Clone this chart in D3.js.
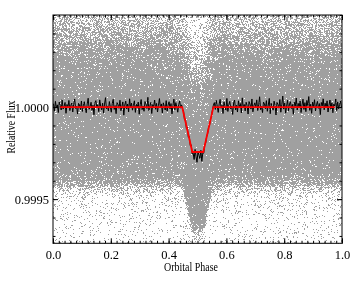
<!DOCTYPE html>
<html>
<head>
<meta charset="utf-8">
<script src="https://cdn.jsdelivr.net/npm/d3@7"></script>
<style>
body { margin: 0; background: #fff; }
#chart { position: relative; width: 360px; height: 288px; }
#chart canvas, #chart svg { position: absolute; left: 0; top: 0; }
</style>
</head>
<body>
<div id="chart"></div>
<script>
// size of the picture
let svg_width = 360;
let svg_height = 288;
let margin = {top: 15, right: 18, bottom: 44.7, left: 53};

// transit model (red line)
let model_phase = [0.025, 0.447, 0.482, 0.520, 0.555, 0.975];
let model_flux  = [1.0, 1.0, 0.999756, 0.999756, 1.0, 1.0];

// binned light curve (black line), 300 bins, deviation from 1 in ppm
let binned_ppm = [
  18, -22, 31, -5, 12, -30, 27, 8, -16, 40, -11, 3, 25, -34, 14, -2, 36, -19, 9, 22,
  -27, 15, 44, -8, 5, -38, 20, 11, -14, 33, -24, 7, 29, -6, -31, 17, 48, -12, 2, 26,
  -18, 10, -42, 23, 35, -3, 13, -25, 39, 4, -15, 21, -33, 16, 51, -9, 6, -21, 30, 1,
  -28, 19, 42, -13, 8, -36, 24, 14, -7, 37, -20, 3, 28, -44, 11, 32, -10, 18, -26, 45,
  -4, 21, -17, 9, 34, -29, 15, -1, 27, -39, 12, 41, -14, 6, -23, 30, 16, -8, 53, -19,
  7, 25, -35, 13, 2, 38, -12, 20, -27, 10, 46, -5, 17, -32, 23, 4, -16, 35, -22, 11,
  29, -10, 19, -37, 8, 43, -15, 24, 1, -28, 14, 33, -6, 12,
  -12, -20, -70, -65, -120, -110, -165, -160, -210, -205, -255,
  -250, -285, -230, -270, -300, -240, -262, -280, -235, -295, -250,
  -250, -205, -195, -160, -145, -110, -100, -65, -50, -15, 10,
  24, -13, 36, 5, -29, 17, 42, -7, 10, -35, 28, 2, -18, 47, -24, 13, 31, -10, 6, -40,
  22, 38, -15, 9, -27, 34, 1, 19, -32, 50, -5, 14, -21, 26, 8, -38, 30, 16, -11, 44,
  -26, 7, 23, -3, 39, -19, 12, 56, -14, 4, -30, 27, 18, -9, 35, -23, 11, 47, -36, 20,
  3, -17, 32, 9, -43, 25, 15, -6, 41, -28, 13, 60, -11, 22, -33, 6, 37, -20, 17, 29,
  -8, 14, -39, 26, 4, 49, -16, 20, -2, 33, -30, 11, 43, -13, 24, -25, 36, 8, 57, -18,
  15, -34, 27, 2, 40, -21, 12, 31, -7, 19, -41, 25, 6, 46, -15, 21, -4, 34, -27, 10,
  38, -12, 23, -31, 16, 5, 44, -19, 28, -9, 14, 33, -2
];

// raw photometry (grey cloud): points per px^2 against offset from the model (ppm)
let cloud_offset_ppm = [-800, -600, -480, -440, -410, -370, -250, 0, 250, 350, 450, 550, 650, 800];
let cloud_density    = [0.05, 0.09, 0.15, 0.5, 1.5, 2.6, 3.2, 3.5, 2.4, 1.3, 0.7, 0.4, 0.2, 0.08];
// a few more points were taken around the transit
let cloud_phase  = [0, 0.46, 0.48, 0.52, 0.54, 1];
let cloud_weight = [1, 1, 1.15, 1.15, 1, 1];

let x_ticks = [0, 0.2, 0.4, 0.6, 0.8, 1.0];
let y_ticks = [0.9995, 1.0];

// scales
let x_scale = d3.scaleLinear()
                .domain([0, 1])
                .range([margin.left, svg_width - margin.right]);

let y_scale = d3.scaleLinear()
                .domain([0.99926, 1.0005])
                .range([svg_height - margin.bottom, margin.top]);

let chart = d3.select('#chart');

// ================================================
// grey points on a canvas (too many for svg)
function drawCloud() {
    let canvas = chart.append('canvas')
                      .attr('width', svg_width)
                      .attr('height', svg_height);
    let ctx = canvas.node().getContext('2d');
    ctx.fillStyle = '#a0a0a0';

    let dens = d3.scaleLinear().domain(cloud_offset_ppm).range(cloud_density).clamp(true);
    let weight = d3.scaleLinear().domain(cloud_phase).range(cloud_weight);
    let model = d3.scaleLinear().domain(model_phase).range(model_flux).clamp(true);

    let rand = d3.randomLcg(0.318);
    let lo = -780, hi = 780;
    let max_d = d3.max(cloud_density) * d3.max(cloud_weight);
    let px_w = x_scale(1) - x_scale(0);
    let px_h = (hi - lo) * 1e-6 / (y_scale.domain()[1] - y_scale.domain()[0]) * (y_scale.range()[0] - y_scale.range()[1]);
    let n = Math.round(max_d * px_w * px_h);

    for (let i = 0; i < n; i++) {
        let ph = rand();
        let off = lo + rand() * (hi - lo);
        if (rand() * max_d > dens(off) * weight(ph)) continue;
        let px = Math.floor(x_scale(ph));
        let py = Math.floor(y_scale(model(ph) + off * 1e-6));
        if (py < margin.top || py >= svg_height - margin.bottom) continue;
        ctx.fillRect(px, py, 1, 1);
    }
}

function drawLines(svg) {
    let nb = binned_ppm.length;
    let line = d3.line()
                 .x(function(d, i) { return x_scale((i + 0.5) / nb); })
                 .y(function(d) { return y_scale(1 + d * 1e-6); });
    svg.append('path')
       .attr('d', line(binned_ppm))
       .attr('fill', 'none')
       .attr('stroke', '#000')
       .attr('stroke-width', 1);

    let mline = d3.line()
                  .x(function(d, i) { return x_scale(model_phase[i]); })
                  .y(function(d) { return y_scale(d); });
    svg.append('path')
       .attr('d', mline(model_flux))
       .attr('fill', 'none')
       .attr('stroke', '#ff0000')
       .attr('stroke-width', 1.8);
}

function drawAxes(svg) {
    let bottom = svg_height - margin.bottom;
    let right = svg_width - margin.right;
    let x_minor = d3.range(0, 1.0001, 0.02);
    let y_minor = d3.range(0.9993, 1.00051, 0.0001);

    let axes = [
        [d3.axisBottom(x_scale), bottom, 0, x_ticks, x_minor, d3.format('.1f')],
        [d3.axisTop(x_scale), margin.top, 0, x_ticks, x_minor, null],
        [d3.axisLeft(y_scale), margin.left, 1, y_ticks, y_minor, d3.format('.4f')],
        [d3.axisRight(y_scale), right, 1, y_ticks, y_minor, null]
    ];

    axes.forEach(function(a) {
        let tr = a[2] ? 'translate(' + a[1] + ',0)' : 'translate(0,' + a[1] + ')';
        svg.append('g')
           .attr('transform', tr)
           .call(a[0].tickValues(a[4]).tickSizeInner(-2.5).tickSizeOuter(0).tickFormat(''))
           .call(function(g) { g.select('.domain').remove(); });
        let g = svg.append('g')
           .attr('transform', tr)
           .call(a[0].tickValues(a[3]).tickSizeInner(-5).tickSizeOuter(0)
                     .tickPadding(a[2] ? 4 : 7).tickFormat(a[5] || ''));
        g.select('.domain').remove();
        g.selectAll('text')
         .attr('font-family', 'Liberation Serif, serif')
         .attr('font-size', 12.5)
         .attr('fill', '#000');
    });

    svg.append('rect')
       .attr('x', margin.left)
       .attr('y', margin.top)
       .attr('width', right - margin.left)
       .attr('height', bottom - margin.top)
       .attr('fill', 'none')
       .attr('stroke', '#000')
       .attr('stroke-width', 1);

    svg.append('text')
       .attr('x', 191)
       .attr('y', 271)
       .attr('text-anchor', 'middle')
       .attr('font-family', 'Liberation Serif, serif')
       .attr('font-size', 12.5)
       .attr('textLength', 54)
       .attr('lengthAdjust', 'spacingAndGlyphs')
       .text('Orbital Phase');

    svg.append('text')
       .attr('transform', 'translate(15,127) rotate(-90)')
       .attr('text-anchor', 'middle')
       .attr('font-family', 'Liberation Serif, serif')
       .attr('font-size', 12.5)
       .attr('textLength', 53)
       .attr('lengthAdjust', 'spacingAndGlyphs')
       .text('Relative Flux');
}

// ================================================
drawCloud();

let svg = chart.append('svg')
               .attr('width', svg_width)
               .attr('height', svg_height);

drawLines(svg);
drawAxes(svg);
</script>
</body>
</html>
